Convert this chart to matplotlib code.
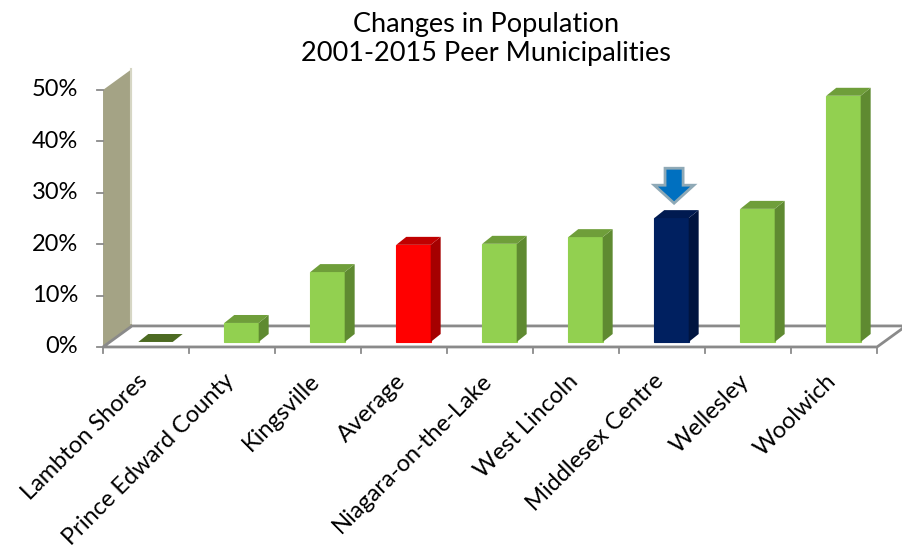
import matplotlib
matplotlib.use("Agg")
import matplotlib.pyplot as plt
from matplotlib.patches import Polygon, Rectangle

plt.rcParams['font.family'] = ['Lato', 'DejaVu Sans']

# data
municipalities = ["Lambton Shores", "Prince Edward County", "Kingsville", "Average",
                  "Niagara-on-the-Lake", "West Lincoln", "Middlesex Centre",
                  "Wellesley", "Woolwich"]
growth_pct = [0.0, 3.7, 13.6, 18.9, 19.1, 20.4, 24.1, 25.9, 47.9]
bar_kind = ["peer", "peer", "peer", "avg", "peer", "peer", "home", "peer", "peer"]
y_ticks = [0, 10, 20, 30, 40, 50]
highlight = "Middlesex Centre"
title_lines = ["Changes in Population", "2001-2015 Peer Municipalities"]

# face colours: front, side, top
palette = {
    "peer": ("#92d050", "#5f8a31", "#6f9e3a"),
    "avg": ("#ff0000", "#a50000", "#c00000"),
    "home": ("#002060", "#00143f", "#001a50"),
}

# oblique projection offsets (x in categories, y in percent)
FDX, FDY = 0.337, 4.09      # depth of floor / wall
BDX, BDY = 0.116, 1.55      # depth of each bar
BW = 0.40                   # bar front width
FX0 = -0.09                 # bar front left edge relative to category centre
BASE = 0.97                 # bar sits a little behind the front edge
EDGE = "#8a8a8a"

fig = plt.figure(figsize=(9.03, 5.5), dpi=100)
ax = fig.add_axes([0, 0, 1, 1])
ax.set_xlim(-1.698, 8.802)
ax.set_ylim(-39.5, 67.5)
ax.axis("off")

n = len(municipalities)
x_left, x_right = -0.5, n - 0.5

# side wall
wall = Polygon([(x_left, 0), (x_left, 50), (x_left + FDX, 50 + FDY), (x_left + FDX, FDY)],
               closed=True, facecolor="#a4a385", edgecolor="none", zorder=1)
ax.add_patch(wall)
ax.plot([x_left + FDX - 0.012] * 2, [FDY + 0.5, 50 + FDY], color="#d6d6c4", lw=1.5, zorder=1.5)

# floor
floor = Polygon([(x_left, 0), (x_right, 0), (x_right + FDX, FDY), (x_left + FDX, FDY)],
                closed=True, facecolor="white", edgecolor=EDGE, lw=2, zorder=2)
ax.add_patch(floor)

# value axis ticks and labels
for t in y_ticks:
    ax.plot([x_left - 0.07, x_left], [t, t], color=EDGE, lw=1.3, zorder=3)
    ax.text(x_left - 0.29, t, f"{t}%", ha="right", va="center", fontsize=17, color="black")

# category ticks and labels
for i in range(n + 1):
    ax.plot([x_left + i, x_left + i], [0, -1.2], color=EDGE, lw=1.3, zorder=3)
for i, name in enumerate(municipalities):
    ax.text(i - 0.02, -6.0, name, rotation=45, rotation_mode="anchor",
            ha="right", va="center", fontsize=17, color="black")

# bars
for i, (v, kind) in enumerate(zip(growth_pct, bar_kind)):
    front_c, side_c, top_c = palette[kind]
    x0 = i + FX0
    x1 = x0 + BW
    y0 = BASE
    y1 = BASE + v
    if v > 0:
        ax.add_patch(Rectangle((x0, y0), BW, v, facecolor=front_c,
                               edgecolor=front_c, lw=0.8, zorder=4))
        ax.add_patch(Polygon([(x1, y0), (x1 + BDX, y0 + BDY), (x1 + BDX, y1 + BDY), (x1, y1)],
                             closed=True, facecolor=side_c, edgecolor="none", zorder=4))
        ax.add_patch(Polygon([(x0, y1), (x1, y1), (x1 + BDX, y1 + BDY), (x0 + BDX, y1 + BDY)],
                             closed=True, facecolor=top_c, edgecolor="none", zorder=4))
    else:
        ax.add_patch(Polygon([(x0, y1), (x1, y1), (x1 + BDX, y1 + BDY), (x0 + BDX, y1 + BDY)],
                             closed=True, facecolor="#4c6a22", edgecolor="none", zorder=4))

# marker arrow above the highlighted municipality
hi = municipalities.index(highlight)
hv = growth_pct[hi] + BASE
cx = hi + 0.14
tip = hv + 2.9
head = tip + 3.5
top = tip + 6.8
arrow = Polygon([(cx - 0.105, top), (cx + 0.105, top), (cx + 0.105, head), (cx + 0.23, head),
                 (cx, tip), (cx - 0.23, head), (cx - 0.105, head)],
                closed=True, facecolor="#0070c0", edgecolor="#8fa9b6", lw=2, zorder=5)
ax.add_patch(arrow)

# two-line title
fig.text(0.538, 1 - 32 / 550, title_lines[0], ha="center", va="baseline", fontsize=19.5)
fig.text(0.538, 1 - 61 / 550, title_lines[1], ha="center", va="baseline", fontsize=19.5)

fig.savefig("out.png", dpi=100)
